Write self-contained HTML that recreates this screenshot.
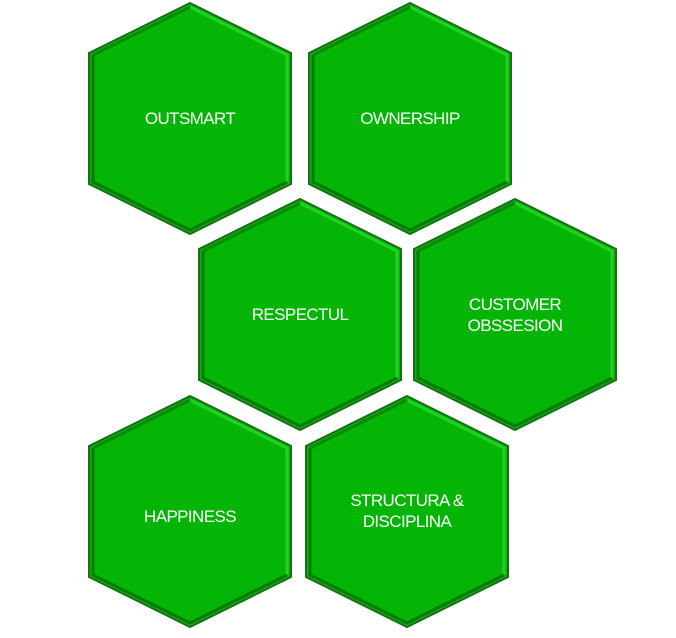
<!DOCTYPE html>
<html><head><style>body{margin:0;background:#fff}svg{display:block}</style></head><body>
<svg width="676" height="638" viewBox="0 0 676 638" xmlns="http://www.w3.org/2000/svg">
<defs>
<g id="h">
<polygon points="101,0 202,50 202,181 101,231 0,181 0,50" fill="#05b505" stroke="#1a6e1a" stroke-width="2"/>
<polyline points="101,4 198,52 198,179" fill="none" stroke="#25d025" stroke-width="3"/>
<polyline points="4,52 101,4" fill="none" stroke="#0a8a0a" stroke-width="3"/>
<polyline points="4,52 4,179 101,227 198,179" fill="none" stroke="#067a06" stroke-width="3"/>
</g>
</defs>
<g font-family="Liberation Sans, sans-serif" font-size="17" fill="#fff" text-anchor="middle" letter-spacing="-0.6">
<use href="#h" x="89" y="3"/><text x="190" y="124">OUTSMART</text>
<use href="#h" x="309" y="3"/><text x="410" y="124">OWNERSHIP</text>
<use href="#h" x="199" y="199"/><text x="300" y="320">RESPECTUL</text>
<use href="#h" x="414" y="199"/><text x="515" y="310">CUSTOMER</text><text x="515" y="331">OBSSESION</text>
<use href="#h" x="89" y="396"/><text x="190" y="522">HAPPINESS</text>
<use href="#h" x="306" y="396"/><text x="407" y="506">STRUCTURA &amp;</text><text x="407" y="527">DISCIPLINA</text>
</g>
</svg>
</body></html>
